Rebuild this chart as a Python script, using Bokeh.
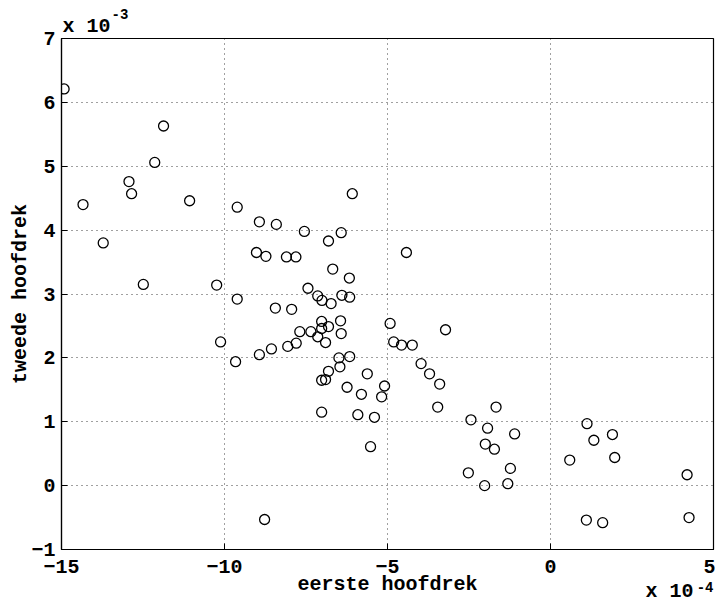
from bokeh.plotting import figure
from bokeh.models import Range1d, Title, FixedTicker, ColumnDataSource
from bokeh.embed import file_html
from bokeh.resources import INLINE

# values in units of 1e-4 (x) and 1e-3 (y)
eerste_hoofdrek = [
    -14.92, -14.34, -13.72, -12.93, -12.85, -12.49, -12.14, -11.87, -11.07, -10.24,
    -9.61, -9.61, -10.12, -9.66, -8.93, -8.41, -7.55, -6.42, -6.81, -9.02,
    -8.73, -8.10, -7.81, -6.68, -6.17, -6.08, -7.44, -7.14, -7.01, -6.73,
    -6.40, -6.16, -8.44, -7.94, -7.02, -6.44, -7.02, -6.81, -7.14, -7.35,
    -7.69, -6.90, -7.80, -8.06, -8.56, -8.93, -6.42, -6.49, -6.16, -6.46,
    -6.81, -6.90, -7.02, -6.24, -7.02, -5.91, -8.77, -4.92, -3.22, -4.81,
    -4.57, -4.24, -3.97, -3.71, -3.40, -5.62, -5.09, -5.80, -5.18, -3.46,
    -5.40, -5.52, -1.67, -2.44, -1.93, -1.10, -2.00, -1.72, -1.23, -2.52,
    -2.02, -1.31, 1.12, 1.90, 1.33, 1.97, 0.59, 4.19, 4.25, 1.10,
    1.60, -4.42,
]
tweede_hoofdrek = [
    6.21, 4.40, 3.80, 4.76, 4.57, 3.15, 5.06, 5.63, 4.46, 3.14,
    4.36, 2.92, 2.25, 1.94, 4.13, 4.09, 3.98, 3.96, 3.83, 3.65,
    3.59, 3.58, 3.58, 3.39, 3.25, 4.57, 3.09, 2.97, 2.90, 2.85,
    2.98, 2.95, 2.78, 2.76, 2.57, 2.58, 2.46, 2.49, 2.33, 2.41,
    2.41, 2.24, 2.23, 2.18, 2.14, 2.05, 2.38, 2.00, 2.02, 1.86,
    1.79, 1.66, 1.65, 1.54, 1.15, 1.11, -0.53, 2.54, 2.44, 2.25,
    2.20, 2.20, 1.91, 1.75, 1.59, 1.75, 1.56, 1.43, 1.39, 1.23,
    1.07, 0.61, 1.23, 1.03, 0.90, 0.81, 0.65, 0.57, 0.27, 0.20,
    0.00, 0.03, 0.97, 0.80, 0.71, 0.44, 0.40, 0.17, -0.50, -0.54,
    -0.58, 3.65,
]
x_ticks = [-15, -10, -5, 0, 5]
y_ticks = [-1, 0, 1, 2, 3, 4, 5, 6, 7]
exponent_base = "x 10"
y_exponent = "-3"
x_exponent = "-4"

FONT = "Liberation Mono"

src = ColumnDataSource(dict(x=eerste_hoofdrek, y=tweede_hoofdrek))

p = figure(width=715, height=602, x_range=Range1d(-15, 5), y_range=Range1d(-1, 7),
           output_backend="svg", toolbar_location=None,
           min_border_left=61, min_border_right=2, min_border_top=38, min_border_bottom=53)
p.background_fill_color = "white"
p.border_fill_color = "white"
p.outline_line_color = "black"
p.outline_line_width = 1.2

p.scatter("x", "y", source=src, marker="circle", size=10, fill_color=None,
          line_color="black", line_width=1.3)

for ax, ticks in ((p.xaxis[0], x_ticks), (p.yaxis[0], y_ticks)):
    ax.ticker = FixedTicker(ticks=ticks)
    ax.major_tick_in = 6
    ax.major_tick_out = 0
    ax.minor_tick_line_color = None
    ax.axis_line_color = "black"
    ax.axis_line_width = 1.2
    ax.major_tick_line_color = "black"
    ax.major_label_text_font = FONT
    ax.major_label_text_font_style = "bold"
    ax.major_label_text_font_size = "20px"
    ax.major_label_text_color = "black"
    ax.axis_label_text_font = FONT
    ax.axis_label_text_font_style = "bold"
    ax.axis_label_text_font_size = "20px"
    ax.axis_label_text_color = "black"

p.xaxis.axis_label = "eerste hoofdrek"
p.yaxis.axis_label = "tweede hoofdrek"
p.xaxis.major_label_standoff = 10
p.yaxis.major_label_standoff = 6
p.xaxis.axis_label_standoff = -3
p.yaxis.axis_label_standoff = -4


def note(text, side, size, **kw):
    p.add_layout(Title(text=text, text_font=FONT, text_font_style="bold",
                       text_font_size=size, text_color="black", **kw), side)


p.xgrid.ticker = FixedTicker(ticks=x_ticks)
p.ygrid.ticker = FixedTicker(ticks=y_ticks)
p.grid.grid_line_color = "black"
p.grid.grid_line_dash = "1 4"
p.grid.grid_line_width = 1
p.grid.grid_line_alpha = 0.75

# exponent notes as titles in the side panels (base, then raised exponent)
note(exponent_base, "above", "20px", align="left", offset=1, standoff=2)
note(y_exponent, "above", "14px", align="left", offset=50, standoff=-14)
note(exponent_base, "below", "20px", align="right", vertical_align="top", offset=20,
     standoff=-38)
note(x_exponent, "below", "14px", align="right", vertical_align="top", offset=0,
     standoff=-34)

open("out.html", "w").write(file_html(p, INLINE))
